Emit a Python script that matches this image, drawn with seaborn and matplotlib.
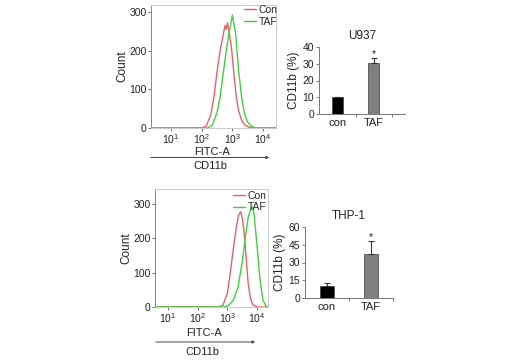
import numpy as np
import pandas as pd
import matplotlib
matplotlib.use("Agg")
import matplotlib.pyplot as plt
import seaborn as sns

# flow cytometry histograms (x = log10 FITC-A intensity, y = count)
u937_con_log = [0.35, 2.0, 2.15, 2.3, 2.4, 2.5, 2.6, 2.7, 2.76, 2.8, 2.84, 2.9, 2.98, 3.05, 3.12, 3.2, 3.3, 3.4, 3.55, 3.7, 4.42]
u937_con_cnt = [0, 0, 5, 35, 80, 145, 200, 240, 265, 255, 272, 245, 200, 140, 85, 45, 20, 8, 2, 0, 0]
u937_taf_log = [0.35, 2.2, 2.35, 2.5, 2.6, 2.7, 2.8, 2.9, 2.95, 3.0, 3.05, 3.1, 3.15, 3.2, 3.3, 3.4, 3.5, 3.6, 3.75, 4.42]
u937_taf_cnt = [0, 0, 8, 40, 80, 140, 200, 250, 270, 292, 268, 248, 200, 150, 80, 35, 15, 6, 0, 0]

thp1_con_log = [0.56, 2.7, 2.85, 3.0, 3.1, 3.2, 3.3, 3.38, 3.45, 3.5, 3.55, 3.62, 3.7, 3.78, 3.85, 3.95, 4.05, 4.37]
thp1_con_cnt = [0, 0, 5, 40, 100, 170, 230, 268, 278, 260, 230, 160, 70, 25, 8, 2, 0, 0]
thp1_taf_log = [0.56, 2.9, 3.05, 3.2, 3.35, 3.5, 3.6, 3.7, 3.8, 3.85, 3.9, 4.0, 4.1, 4.2, 4.3, 4.37]
thp1_taf_cnt = [0, 0, 5, 20, 55, 130, 200, 260, 290, 292, 270, 180, 80, 20, 3, 0]

# CD11b (%) bar charts
groups = ["con", "TAF"]
u937_mean = [10.3, 30.4]
u937_err = [0, 3.2]
thp1_mean = [9.9, 37.2]
thp1_err = [3.0, 11.2]

RED = "#e6606c"
GREEN = "#3ed23e"
TXT = "#222222"

sns.set_theme(style="ticks")
plt.rcParams["font.family"] = ["Liberation Sans", "DejaVu Sans"]
plt.rcParams["mathtext.fontset"] = "custom"
plt.rcParams["mathtext.rm"] = "Liberation Sans"

fig = plt.figure(figsize=(5.2, 3.6), dpi=100)
W, H = 520.0, 360.0


def px_axes(l, t, r, b):
    return fig.add_axes([l / W, 1 - b / H, (r - l) / W, (b - t) / H])


def histogram(ax, con_log, con_cnt, taf_log, taf_cnt, xlim, ytop, leg_anchor):
    sns.lineplot(x=10 ** np.array(con_log), y=con_cnt, ax=ax, color=RED, lw=1.0, label="Con")
    sns.lineplot(x=10 ** np.array(taf_log), y=taf_cnt, ax=ax, color=GREEN, lw=1.0, label="TAF")
    ax.set_xscale("log")
    ax.set_xlim(10 ** xlim[0], 10 ** xlim[1])
    ax.set_ylim(0, ytop)
    ax.set_yticks([0, 100, 200, 300])
    ax.set_xticks([10, 100, 1000, 10000])
    ax.tick_params(axis="both", labelsize=7.5, colors="#555555", labelcolor=TXT, length=2, width=0.6, pad=1)
    ax.tick_params(axis="x", which="minor", length=1.2, width=0.5, colors="#777777")
    for s in ["top", "right", "bottom"]:
        ax.spines[s].set_color("#c8c8c8")
        ax.spines[s].set_linewidth(0.7)
    ax.spines["left"].set_color("#888888")
    ax.spines["left"].set_linewidth(0.7)
    ax.set_xlabel("")
    ax.set_ylabel("Count", fontsize=8.5, color=TXT, labelpad=1)
    ax.legend(loc="upper right", bbox_to_anchor=leg_anchor, frameon=False, fontsize=7.5,
              handlelength=1.2, handletextpad=0.2, labelspacing=0.15, borderaxespad=0,
              borderpad=0)


def bars(ax, mean, err, ylim, yticks, xlim, title):
    df = pd.DataFrame({"group": groups, "value": mean})
    sns.barplot(data=df, x="group", y="value", hue="group", palette=["#000000", "#808080"],
                width=0.3, ax=ax, legend=False, edgecolor="#404040", linewidth=0.5)
    ax.errorbar([0, 1], mean, yerr=[[0, 0], err], fmt="none", ecolor="#333333",
                elinewidth=0.8, capsize=2, capthick=0.8)
    ax.text(1, mean[1] + err[1] + ylim[1] * 0.05, "*", ha="center", va="center", fontsize=7.5, color=TXT)
    ax.set_ylim(*ylim)
    ax.set_yticks(yticks)
    ax.set_xlim(*xlim)
    ax.set_xlabel("")
    ax.set_ylabel("CD11b (%)", fontsize=8.5, color=TXT, labelpad=2)
    ax.set_title(title, fontsize=8.5, color=TXT, pad=6)
    ax.set_xticks([0.5, 1.5], minor=True)
    ax.tick_params(axis="x", which="major", length=0, labelsize=8, labelcolor=TXT, pad=3)
    ax.tick_params(axis="x", which="minor", length=2.5, width=0.6, colors="#666666")
    ax.tick_params(axis="y", labelsize=7.5, labelcolor=TXT, colors="#666666", length=2.5, width=0.6, pad=1)
    sns.despine(ax=ax)
    for s in ["left", "bottom"]:
        ax.spines[s].set_color("#777777")
        ax.spines[s].set_linewidth(0.7)


# top row: U937
ax1 = px_axes(151, 5, 276, 128)
histogram(ax1, u937_con_log, u937_con_cnt, u937_taf_log, u937_taf_cnt, (0.35, 4.42), 318, (1.01, 1.0))
fig.text(212 / W, 1 - 152 / H, "FITC-A", ha="center", va="center", fontsize=8, color=TXT)
fig.add_artist(matplotlib.patches.FancyArrowPatch((148 / W, 1 - 157.5 / H), (272 / W, 1 - 157.5 / H),
               transform=fig.transFigure, arrowstyle="-|>", mutation_scale=4, lw=0.7, color="#444444"))
fig.text(210 / W, 1 - 166 / H, "CD11b", ha="center", va="center", fontsize=8, color=TXT)

ax2 = px_axes(319, 47, 405, 114)
bars(ax2, u937_mean, u937_err, (0, 40), [0, 10, 20, 30, 40], (-0.5, 1.85), "U937")

# bottom row: THP-1
ax3 = px_axes(155, 189, 268, 307)
histogram(ax3, thp1_con_log, thp1_con_cnt, thp1_taf_log, thp1_taf_cnt, (0.56, 4.37), 344, (0.985, 0.985))
fig.text(204 / W, 1 - 333 / H, "FITC-A", ha="center", va="center", fontsize=8, color=TXT)
fig.add_artist(matplotlib.patches.FancyArrowPatch((153 / W, 1 - 342 / H), (258 / W, 1 - 342 / H),
               transform=fig.transFigure, arrowstyle="-|>", mutation_scale=4, lw=0.7, color="#444444"))
fig.text(202 / W, 1 - 352 / H, "CD11b", ha="center", va="center", fontsize=8, color=TXT)

ax4 = px_axes(305, 227, 393, 298)
bars(ax4, thp1_mean, thp1_err, (0, 60), [0, 15, 30, 45, 60], (-0.5, 1.5), "THP-1")

fig.savefig("out.png", dpi=100)
